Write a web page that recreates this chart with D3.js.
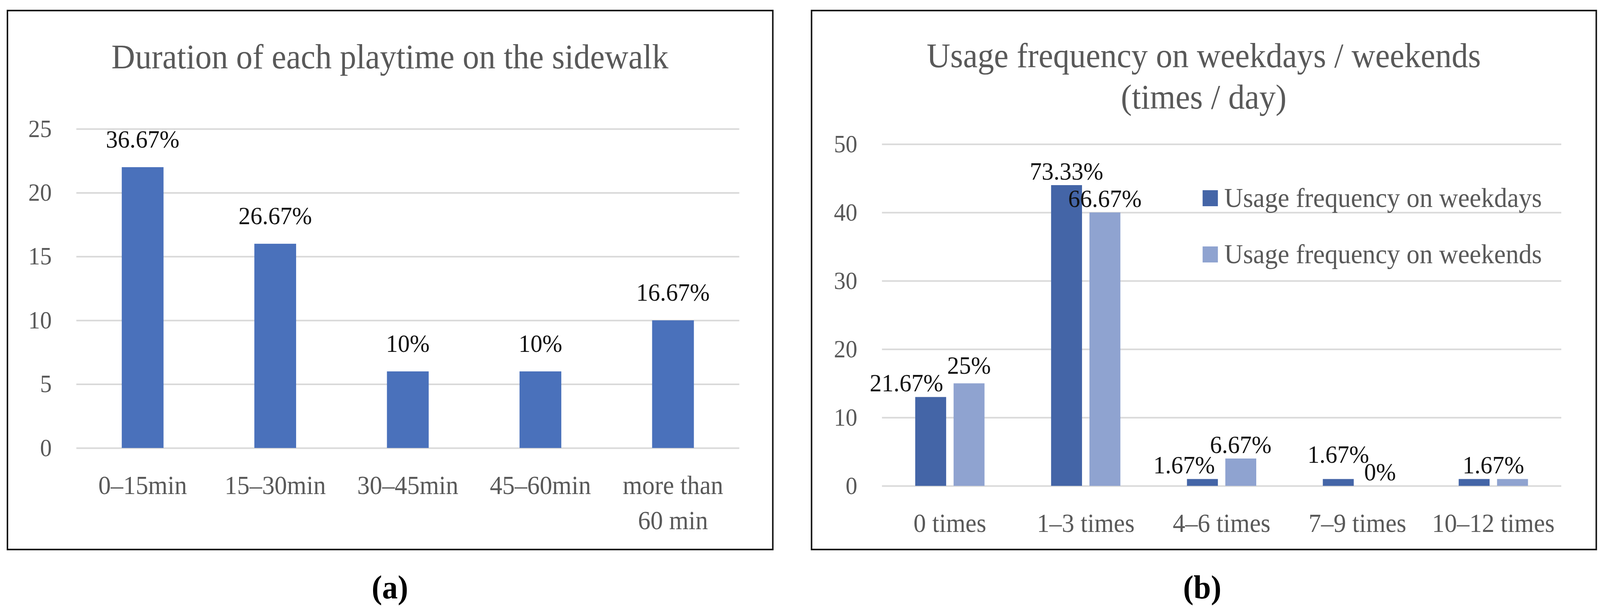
<!DOCTYPE html>
<html>
<head>
<meta charset="utf-8">
<script src="https://cdn.jsdelivr.net/npm/d3@7"></script>
<style>
  html, body { margin: 0; padding: 0; background: #fff; overflow: hidden; }
  svg { display: block; width: 100vw; height: 100vh; }
  svg text { font-family: "Liberation Serif", "DejaVu Serif", serif; }
</style>
</head>
<body>
<svg></svg>
<script>
// Survey answers (60 respondents).
const total = 60;

const durationCategories = ["0–15min", "15–30min", "30–45min", "45–60min", "more than 60 min"];
const durationCounts = [22, 16, 6, 6, 10];
const durationTicks = [0, 5, 10, 15, 20, 25];

const usageCategories = ["0 times", "1–3 times", "4–6 times", "7–9 times", "10–12 times"];
const usageSeries = ["Usage frequency on weekdays", "Usage frequency on weekends"];
const weekdayCounts = [13, 44, 1, 1, 1];
const weekendCounts = [15, 40, 4, 0, 1];
const usageTicks = [0, 10, 20, 30, 40, 50];

// Drawing size (scaled to the window through the viewBox)
const width = 4296;
const height = 1567;

const svg = d3.select("svg")
    .attr("viewBox", [0, 0, width, height])
    .attr("preserveAspectRatio", "none");

const grey = "#595959";
const pct = v => +(v / total * 100).toFixed(2) + "%";

// wrap long tick labels onto several lines
function wrap(text, w) {
  text.each(function() {
    const t = d3.select(this);
    const words = t.text().split(/\s+/).reverse();
    const y = t.attr("y");
    const dy = parseFloat(t.attr("dy"));
    let line = [], lineNumber = 0, word;
    let tspan = t.text(null).append("tspan").attr("x", 0).attr("y", y).attr("dy", dy + "em");
    while ((word = words.pop())) {
      line.push(word);
      tspan.text(line.join(" "));
      if (tspan.node().getComputedTextLength() > w && line.length > 1) {
        line.pop();
        tspan.text(line.join(" "));
        line = [word];
        tspan = t.append("tspan").attr("x", 0).attr("y", y)
            .attr("dy", ++lineNumber * 1.35 + dy + "em").text(word);
      }
    }
  });
}

// Panel frames
svg.append("rect")
    .attr("x", 20).attr("y", 27).attr("width", 2055).attr("height", 1380)
    .attr("fill", "none").attr("stroke", "#111").attr("stroke-width", 4);
svg.append("rect")
    .attr("x", 2179).attr("y", 27).attr("width", 2107).attr("height", 1380)
    .attr("fill", "none").attr("stroke", "#111").attr("stroke-width", 4);

// ---------- (a) Duration of each playtime ----------
const a = {left: 205, right: 1985, top: 330, bottom: 1147};

const xA = d3.scaleBand(durationCategories, [a.left, a.right])
    .paddingInner(0.685)
    .paddingOuter(0.3425);
const yA = d3.scaleLinear([0, 25], [a.bottom, a.top]);

svg.append("text")
    .attr("x", 1047).attr("y", 175)
    .attr("text-anchor", "middle")
    .attr("font-size", 88)
    .attr("fill", grey)
    .text("Duration of each playtime on the sidewalk");

// grid lines + y labels
svg.append("g")
    .attr("transform", `translate(${a.left},0)`)
    .call(d3.axisLeft(yA).tickValues(durationTicks).tickSize(-(a.right - a.left)).tickPadding(66))
    .call(g => g.select(".domain").remove())
    .call(g => g.selectAll(".tick line").attr("stroke", "#d9d9d9").attr("stroke-width", 4))
    .call(g => g.selectAll(".tick text").attr("fill", grey).attr("font-size", 63));

svg.append("g")
    .attr("fill", "#4a71bb")
  .selectAll("rect")
  .data(durationCounts)
  .join("rect")
    .attr("x", (d, i) => xA(durationCategories[i]))
    .attr("y", d => yA(d))
    .attr("width", xA.bandwidth())
    .attr("height", d => yA(0) - yA(d));

svg.append("g")
  .selectAll("text")
  .data(durationCounts)
  .join("text")
    .attr("x", (d, i) => xA(durationCategories[i]) + xA.bandwidth() / 2)
    .attr("y", d => yA(d) - 50)
    .attr("text-anchor", "middle")
    .attr("font-size", 64)
    .attr("fill", "#111")
    .text(pct);

svg.append("g")
    .attr("transform", `translate(0,${a.bottom})`)
    .call(d3.axisBottom(xA).tickSize(0).tickPadding(70))
    .call(g => g.select(".domain").remove())
    .call(g => g.selectAll(".tick text").attr("fill", grey).attr("font-size", 67)
        .call(wrap, xA.step() * 0.9));

svg.append("text")
    .attr("x", 1047).attr("y", 1532)
    .attr("text-anchor", "middle")
    .attr("font-size", 84)
    .attr("font-weight", "bold")
    .text("(a)");

// ---------- (b) Usage frequency ----------
const b = {left: 2368, right: 4192, top: 369, bottom: 1244};

const x0 = d3.scaleBand(usageCategories, [b.left, b.right])
    .paddingInner(0.49)
    .paddingOuter(0.245);
const x1 = d3.scaleBand(usageSeries, [0, x0.bandwidth()])
    .paddingInner(0.194);
const yB = d3.scaleLinear([0, 50], [b.bottom, b.top]);
const color = d3.scaleOrdinal(usageSeries, ["#4465a7", "#8fa3d0"]);

const groups = usageCategories.map((c, i) => ({
  category: c,
  values: [
    {series: usageSeries[0], value: weekdayCounts[i]},
    {series: usageSeries[1], value: weekendCounts[i]}
  ]
}));

const titleB = svg.append("text")
    .attr("text-anchor", "middle")
    .attr("font-size", 88)
    .attr("fill", grey);
titleB.append("tspan").attr("x", 3232).attr("y", 172).text("Usage frequency on weekdays / weekends");
titleB.append("tspan").attr("x", 3232).attr("y", 278).text("(times / day)");

svg.append("g")
    .attr("transform", `translate(${b.left},0)`)
    .call(d3.axisLeft(yB).tickValues(usageTicks).tickSize(-(b.right - b.left)).tickPadding(66))
    .call(g => g.select(".domain").remove())
    .call(g => g.selectAll(".tick line").attr("stroke", "#d9d9d9").attr("stroke-width", 4))
    .call(g => g.selectAll(".tick text").attr("fill", grey).attr("font-size", 63));

const group = svg.append("g")
  .selectAll("g")
  .data(groups)
  .join("g")
    .attr("transform", d => `translate(${x0(d.category)},0)`);

group.selectAll("rect")
  .data(d => d.values)
  .join("rect")
    .attr("x", d => x1(d.series))
    .attr("y", d => yB(d.value))
    .attr("width", x1.bandwidth())
    .attr("height", d => yB(0) - yB(d.value))
    .attr("fill", d => color(d.series));

// value labels: when the two labels of a group sit close in height,
// the lower one is pushed outward and the higher one lifted a little
group.each(function(d) {
  const g = d3.select(this);
  const bw = x1.bandwidth();
  const lab = (v, x, y, anchor) => g.append("text")
      .attr("x", x).attr("y", y)
      .attr("text-anchor", anchor)
      .attr("font-size", 64)
      .attr("fill", "#111")
      .text(pct(v));
  const items = d.values.map((v, i) => ({
    v: v.value,
    left: x1(v.series),
    y: yB(v.value) - 14,
    side: i === 0 ? -1 : 1
  }));
  const [p, q] = items;
  if (pct(p.v) === pct(q.v) && Math.abs(p.y - q.y) < 1) {
    lab(p.v, x0.bandwidth() / 2, p.y, "middle");
  } else if (Math.abs(p.y - q.y) < 60) {
    const lower = p.y > q.y ? p : q;
    const upper = lower === p ? q : p;
    if (lower.side < 0) lab(lower.v, lower.left + bw - 8, lower.y, "end");
    else lab(lower.v, lower.left + 8, lower.y, "start");
    lab(upper.v, upper.left + bw / 2, Math.min(upper.y, lower.y - 45), "middle");
  } else {
    items.forEach(it => lab(it.v, it.left + bw / 2, it.y, "middle"));
  }
});

svg.append("g")
    .attr("transform", `translate(0,${b.bottom})`)
    .call(d3.axisBottom(x0).tickSize(0).tickPadding(70))
    .call(g => g.select(".domain").remove())
    .call(g => g.selectAll(".tick text").attr("fill", grey).attr("font-size", 67));

// legend
const legend = svg.append("g")
    .attr("transform", "translate(3229,487)")
  .selectAll("g")
  .data(usageSeries)
  .join("g")
    .attr("transform", (d, i) => `translate(0,${i * 144})`);
legend.append("rect")
    .attr("width", 41).attr("height", 41)
    .attr("fill", d => color(d));
legend.append("text")
    .attr("x", 58).attr("y", 20.5).attr("dy", "0.32em")
    .attr("font-size", 70)
    .attr("fill", grey)
    .text(d => d);

svg.append("text")
    .attr("x", 3228).attr("y", 1532)
    .attr("text-anchor", "middle")
    .attr("font-size", 84)
    .attr("font-weight", "bold")
    .text("(b)");
</script>
</body>
</html>
